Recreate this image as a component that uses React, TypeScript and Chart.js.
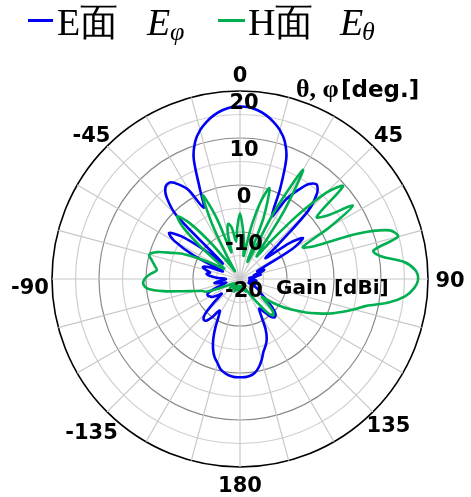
import React, { useEffect, useRef } from 'react';
import { Chart, registerables } from 'chart.js';

Chart.register(...registerables);

// Angle categories (deg, clockwise from top)
const ANGLES = [
  0, 3, 6, 9, 12, 15, 18, 21, 24, 27, 30, 33, 36, 39, 42, 45, 48, 51, 54, 57,
  60, 63, 66, 69, 72, 75, 78, 81, 84, 87, 90, 93, 96, 99, 102, 105, 108, 111, 114, 117,
  120, 123, 126, 129, 132, 135, 138, 141, 144, 147, 150, 153, 156, 159, 162, 165, 168, 171, 174, 177,
  180, 183, 186, 189, 192, 195, 198, 201, 204, 207, 210, 213, 216, 219, 222, 225, 228, 231, 234, 237,
  240, 243, 246, 249, 252, 255, 258, 261, 264, 267, 270, 273, 276, 279, 282, 285, 288, 291, 294, 297,
  300, 303, 306, 309, 312, 315, 318, 321, 324, 327, 330, 333, 336, 339, 342, 345, 348, 351, 354, 357,
];

// E-plane (E_phi) gain [dBi]
const E_PLANE = [
  16.7, 16.6, 16.1, 15.3, 14.2, 12.8, 10.8, 7.5, 1.0, -5.0, -0.5, 2.5, 5.0, 5.9, 4.5, 0.5, -9, -13, -7, -4,
  -7, -14, -16, -14.5, -15.5, -17, -15.5, -16.5, -18, -17, -18, -17, -16.5, -17.5, -18, -17, -16.5, -17.5, -18, -16.5,
  -15.5, -15, -14, -12.5, -10.5, -9.3, -9.0, -9.8, -11.5, -12.5, -11, -8, -6, -4.8, -3.8, -2.2, -0.8, 0.2, 0.7, 0.9,
  0.9, 0.9, 0.7, 0.3, -0.3, -1.5, -2.5, -4, -6, -8.5, -11, -12, -10, -8.6, -8.4, -9.5, -12.5, -15, -14, -13,
  -12.6, -12.3, -12.5, -14, -16, -17, -16, -14.5, -15.5, -16.5, -17, -15, -13.5, -12.8, -13.5, -12.5, -11.7, -13, -16, -9,
  -4, -2, -4.5, -10, -15, -1, 3.3, 5.2, 5.4, 4, 1.8, -3, 1, 7.5, 10.8, 12.8, 14.2, 15.3, 16.1, 16.6,
];

// H-plane (E_theta) gain [dBi]
const H_PLANE = [
  -6, -9, -12, -15, -9, -3, 0.3, -6, -16, -4, 6.8, -3, -14, -10, -2, 6, 9.5, 1, 3, 8.6,
  2, -5, -3, 7, 13.5, 14.8, 9.0, 10.5, 15, 17.3, 17.9, 17.1, 15.3, 12, 7.5, 5, 2.7, 0.5, -2, -4.3,
  -6.8, -9, -11.5, -14, -12, -10, -9.5, -11, -14, -16, -17.5, -18, -17, -18, -18.5, -18, -17.5, -18, -18.5, -18,
  -17.5, -18, -18.5, -18, -17.5, -18, -18.5, -18, -17, -18, -18.5, -18, -17.5, -18, -18.5, -18, -17, -18, -18.5, -18,
  -18, -17, -15, -12.4, -11.7, -10.1, -7.5, -3.5, -0.3, 0.6, 0.3, -0.8, -2.2, -1.6, -0.8, 0, -1.5, -4.5, -7, -11,
  -14, -16, -15, -10, -4, -1.1, -4, -10, -16, -18, -15, -7, -0.5, -6, -14, -10, -8, -9, -12, -9,
];

const RADIAL_TICKS = [20, 10, 0, -10, -20];
const ANGLE_TICKS = [0, 45, 90, 135, 180, -135, -90, -45];
const ANGLE_TICK_LABELS = ['0', '45', '90', '135', '180', '-135', '-90', '-45'];

const BLUE = '#0000F5';
const GREEN = '#00B050';

const labelsPlugin = {
  id: 'polarLabels',
  afterDraw(chart: any) {
    const scale = chart.scales.r;
    const ctx = chart.ctx;
    const cx = scale.xCenter;
    const cy = scale.yCenter;
    const R = scale.drawingArea;
    ctx.save();
    ctx.fillStyle = '#000';
    ctx.textAlign = 'center';
    ctx.textBaseline = 'middle';
    ctx.font = 'bold 21px "DejaVu Sans"';
    RADIAL_TICKS.forEach((v) => {
      const d = scale.getDistanceFromCenterForValue(v);
      ctx.fillText(String(v), cx + 4, cy - d + 12.5);
    });
    ctx.font = 'bold 21px "DejaVu Sans"';
    ANGLE_TICKS.forEach((a, i) => {
      const rad = (a * Math.PI) / 180;
      // labels on the left half sit a little lower in the original
      const drop = a < 0 && a > -180 && a !== -45 ? 7 : 0;
      ctx.fillText(ANGLE_TICK_LABELS[i], cx + (R + 22) * Math.sin(rad), cy - (R + 17) * Math.cos(rad) + 3 + drop);
    });
    ctx.textAlign = 'left';
    ctx.textBaseline = 'alphabetic';
    ctx.font = 'bold 26px "Liberation Serif"';
    ctx.fillText('θ, φ', cx + 56, 97);
    ctx.font = 'bold 23px "DejaVu Sans"';
    ctx.fillText('[deg.]', cx + 101, 97);
    ctx.font = 'bold 20px "DejaVu Sans"';
    ctx.fillText('Gain [dBi]', cx + 36, 294);
    ctx.restore();
  },
};

const serif = '"Liberation Serif", "Times New Roman", serif';

function txt(left: number, top: number, size: number, italic = false): React.CSSProperties {
  return {
    position: 'absolute',
    left,
    top,
    fontFamily: serif,
    fontSize: size,
    lineHeight: size + 'px',
    fontStyle: italic ? 'italic' : 'normal',
    whiteSpace: 'nowrap',
    color: '#000',
  };
}

export default function App() {
  const ref = useRef<HTMLCanvasElement | null>(null);
  useEffect(() => {
    if (!ref.current) return;
    const chart = new Chart(ref.current, {
      type: 'radar',
      data: {
        labels: ANGLES,
        datasets: [
          {
            label: 'E面 Eφ',
            data: E_PLANE,
            borderColor: BLUE,
            borderWidth: 2.6,
            pointRadius: 0,
            fill: false,
            tension: 0.3,
            order: 1,
            borderJoinStyle: 'round',
          },
          {
            label: 'H面 Eθ',
            data: H_PLANE,
            borderColor: GREEN,
            borderWidth: 2.6,
            pointRadius: 0,
            fill: false,
            tension: 0.3,
            order: 0,
            borderJoinStyle: 'round',
          },
        ],
      },
      options: {
        responsive: false,
        animation: false,
        layout: { padding: { left: 52, right: 43, top: 91, bottom: 30 } },
        plugins: { legend: { display: false }, tooltip: { enabled: false }, title: { display: false } },
        scales: {
          r: {
            min: -20,
            max: 20,
            ticks: { stepSize: 5, display: false },
            pointLabels: { display: false },
            grid: {
              circular: true,
              color: (c: any) => (c.tick.value === 20 ? '#000' : c.tick.value % 10 === 0 ? '#8a8a8a' : '#cfcfcf'),
              lineWidth: (c: any) => (c.tick.value === 20 ? 1.6 : 1.2),
            },
            angleLines: {
              color: '#c8c8c8',
              lineWidth: (c: any) => (c.index % 5 === 0 ? 1.2 : 0),
            },
          },
        },
      },
      plugins: [labelsPlugin],
    } as any);
    return () => chart.destroy();
  }, []);

  return (
    <div style={{ position: 'fixed', left: 0, top: 0, width: 471, height: 497, background: '#fff', overflow: 'hidden' }}>
      <canvas ref={ref} width={471} height={497} style={{ position: 'absolute', left: 0, top: 0, width: 471, height: 497 }} />
      <div style={{ position: 'absolute', left: 28, top: 19, width: 25, height: 3, background: BLUE }} />
      <span style={txt(57, 3, 38)}>E面</span>
      <span style={txt(147, 3, 38, true)}>E</span>
      <span style={txt(170, 19, 26, true)}>φ</span>
      <div style={{ position: 'absolute', left: 218, top: 19, width: 27, height: 3, background: GREEN }} />
      <span style={txt(248, 3, 38)}>H面</span>
      <span style={txt(340, 3, 38, true)}>E</span>
      <span style={txt(362, 19, 26, true)}>θ</span>
    </div>
  );
}
